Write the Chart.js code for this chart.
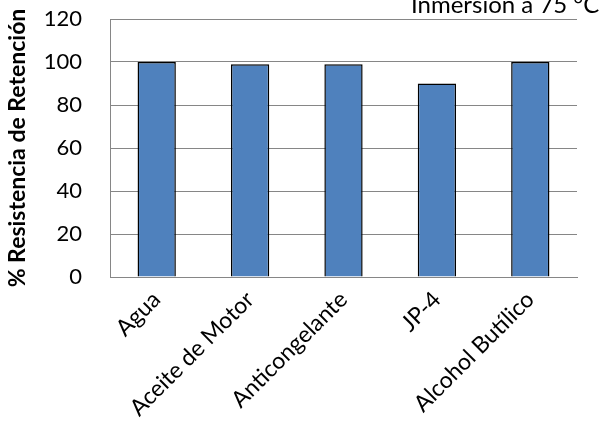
<!DOCTYPE html>
<html>
<head>
<meta charset="utf-8">
<script src="https://cdn.jsdelivr.net/npm/chart.js@4"></script>
<style>
  html, body { margin: 0; padding: 0; background: #fff; }
  #wrap { width: 603px; height: 434px; position: relative; }
</style>
</head>
<body>
<div id="wrap"><canvas id="chartCanvas"></canvas></div>
<script>
// Data
const categories = ['Agua', 'Aceite de Motor', 'Anticongelante', 'JP-4', 'Alcohol Butílico'];
const retention = [100, 99, 99, 90, 100];
const yTicks = [0, 20, 40, 60, 80, 100, 120];
const chartTitle = 'Inmersión a 75 °C';
const yTitle = '% Resistencia de Retención';

const fontFamily = 'Lato, "Open Sans", sans-serif';

// title sits partly above the canvas edge, like the original
const clippedTitle = {
    id: 'clippedTitle',
    afterDraw(chart) {
        const ctx = chart.ctx;
        ctx.save();
        ctx.font = '24px ' + fontFamily;
        ctx.fillStyle = '#000';
        ctx.textAlign = 'left';
        ctx.textBaseline = 'alphabetic';
        ctx.fillText(chartTitle, 411, 13);
        ctx.restore();
    }
};

new Chart(document.getElementById('chartCanvas').getContext('2d'), {
    type: 'bar',
    data: {
        labels: categories,
        datasets: [{
            data: retention,
            backgroundColor: '#4F81BD',
            borderColor: '#000000',
            borderWidth: 1.5,
            categoryPercentage: 1,
            barPercentage: 0.41
        }]
    },
    options: {
        responsive: true,
        maintainAspectRatio: false,
        animation: false,
        layout: { padding: { left: 0, right: 26, top: 19, bottom: 0 } },
        plugins: {
            legend: { display: false },
            tooltip: { enabled: false }
        },
        scales: {
            x: {
                grid: { display: false, drawTicks: false },
                border: { color: '#868686', width: 1 },
                ticks: {
                    color: '#000',
                    font: { family: fontFamily, size: 23 },
                    maxRotation: 45,
                    minRotation: 45,
                    padding: 9
                },
                afterFit(scale) { scale.height = 157; }
            },
            y: {
                min: 0,
                max: 120,
                afterBuildTicks(scale) { scale.ticks = yTicks.map(v => ({ value: v })); },
                grid: { color: '#868686', lineWidth: 1, drawTicks: false },
                border: { color: '#868686', width: 1 },
                ticks: {
                    color: '#000',
                    font: { family: fontFamily, size: 22 },
                    padding: 28
                },
                title: {
                    display: true,
                    text: yTitle,
                    color: '#000',
                    font: { family: fontFamily, size: 23, weight: 'bold' },
                    padding: { top: 4, bottom: 0 }
                },
                afterFit(scale) {
                    scale.width = 110;
                    // tick padding would otherwise push the plot top down
                    scale.paddingTop = 0;
                    scale.paddingBottom = 0;
                }
            }
        }
    },
    plugins: [clippedTitle]
});
</script>
</body>
</html>
